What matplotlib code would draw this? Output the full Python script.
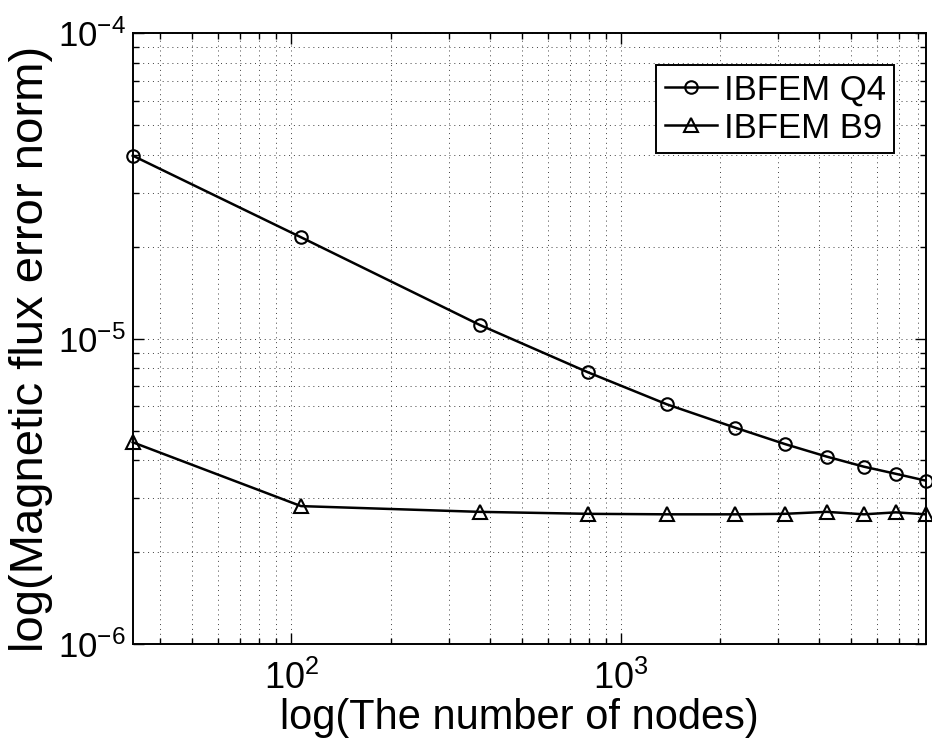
import matplotlib
matplotlib.use('Agg')
import matplotlib.pyplot as plt
from matplotlib.ticker import LogLocator, NullFormatter

plt.rcParams['font.family'] = ['Liberation Sans', 'DejaVu Sans']
plt.rcParams['mathtext.fontset'] = 'custom'
plt.rcParams['mathtext.rm'] = 'Liberation Sans'
plt.rcParams['mathtext.it'] = 'Liberation Sans'

# number of nodes for each refinement level
nodes = [33, 107, 373, 796, 1379, 2229, 3147, 4220, 5470, 6840, 8420]

# magnetic flux error norm
err_q4 = [3.98e-5, 2.15e-5, 1.11e-5, 7.76e-6, 6.10e-6, 5.11e-6,
          4.52e-6, 4.11e-6, 3.81e-6, 3.61e-6, 3.43e-6]
err_b9 = [4.58e-6, 2.83e-6, 2.71e-6, 2.67e-6, 2.66e-6, 2.66e-6,
          2.67e-6, 2.71e-6, 2.66e-6, 2.70e-6, 2.66e-6]

fig = plt.figure(figsize=(9.32, 7.46), dpi=100)
ax = fig.add_axes([0.1424, 0.1367, 0.8508, 0.8184])

ax.loglog(nodes, err_q4, 'k-o', lw=1.8, ms=9, mfc='none', mew=1.5,
          label='IBFEM Q4', clip_on=False, zorder=3)
ax.loglog(nodes, err_b9, 'k-^', lw=1.8, ms=10, mfc='none', mew=1.5,
          label='IBFEM B9', clip_on=False, zorder=3)

ax.set_xlim(nodes[0], nodes[-1])
ax.set_ylim(1e-6, 1e-4)

ax.xaxis.set_major_locator(LogLocator(base=10, numticks=10))
ax.xaxis.set_minor_locator(LogLocator(base=10, subs=range(2, 10), numticks=20))
ax.yaxis.set_major_locator(LogLocator(base=10, numticks=10))
ax.yaxis.set_minor_locator(LogLocator(base=10, subs=range(2, 10), numticks=20))
ax.xaxis.set_minor_formatter(NullFormatter())
ax.yaxis.set_minor_formatter(NullFormatter())

ax.grid(True, which='both', color='0.25', ls=(0, (1, 4)), lw=0.7)
ax.tick_params(which='both', direction='in', top=True, right=True, width=1.0)
ax.tick_params(axis='x', pad=12, labelsize=26)
ax.tick_params(axis='y', pad=5, labelsize=25)
ax.tick_params(which='major', length=8)
ax.tick_params(which='minor', length=4)
for s in ax.spines.values():
    s.set_linewidth(1.4)

ax.set_xlabel('log(The number of nodes)', fontsize=30)
ax.set_ylabel('log(Magnetic flux error norm)', fontsize=34)
ax.xaxis.set_label_coords(0.487, -0.088)
ax.yaxis.set_label_coords(-0.1, 0.483)

leg = ax.legend(loc='upper right', fontsize=25, frameon=True, fancybox=False,
                edgecolor='k', framealpha=1, handlelength=1.5,
                handletextpad=0.2, borderpad=0.25, labelspacing=0.15,
                borderaxespad=0.9)
leg.get_frame().set_linewidth(1.4)

fig.savefig('out.png', dpi=100)
